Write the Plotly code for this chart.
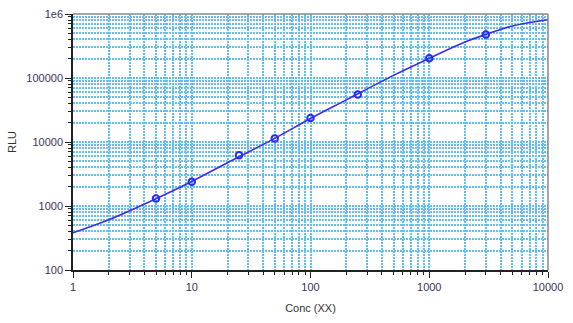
import plotly.graph_objects as go

# Standards measured on the plate
conc = [5, 10, 25, 50, 100, 250, 1000, 3000]
rlu = [1315, 2400, 6200, 11300, 23700, 55400, 204000, 477000]

# Fitted standard curve, sampled across the plotted range
fit_conc = [1, 2, 5, 10, 20, 50, 100, 200, 500, 1000, 2000, 3000, 5000, 10000]
fit_rlu = [382, 610, 1300, 2420, 4750, 11400, 23300, 45500, 110000, 203000,
           365000, 480000, 650000, 815000]

x_major = [1, 10, 100, 1000, 10000]
x_labels = ["1", "10", "100", "1000", "10000"]
y_major = [100, 1000, 10000, 100000, 1000000]
y_labels = ["100", "1000", "10000", "100000", "1e6"]


def minor_vals(lo_exp, hi_exp):
    return [m * 10 ** e for e in range(lo_exp, hi_exp) for m in range(2, 10)]


grid_color = "#62bff0"
grid_dash = "2px,1px"
label_color = "#3a3358"
font_family = "Liberation Sans, Arial"

fig = go.Figure()
fig.add_trace(go.Scatter(
    x=fit_conc, y=fit_rlu, mode="lines", line_shape="spline",
    line=dict(color="#3b2ee6", width=1.6), hoverinfo="skip", showlegend=False,
))
fig.add_trace(go.Scatter(
    x=conc, y=rlu, mode="markers",
    marker=dict(symbol="circle-open", size=6.5, color="#2a2af0", line=dict(width=2)),
    showlegend=False,
))

axis_common = dict(
    type="log", showline=True, linecolor="#222222", linewidth=1.5,
    ticks="outside", ticklen=6, tickcolor="#222222", tickwidth=1,
    showgrid=True, gridcolor=grid_color, gridwidth=1.5, griddash=grid_dash,
    tickfont=dict(family=font_family, size=11, color=label_color),
    zeroline=False, tickmode="array",
)

minor_common = dict(
    tickmode="array", ticks="outside", ticklen=3, tickcolor="#222222",
    showgrid=True, gridcolor=grid_color, gridwidth=1.5, griddash=grid_dash,
)

fig.update_xaxes(
    **axis_common, range=[0, 4], tickvals=x_major, ticktext=x_labels,
    title=dict(text="Conc (XX)", font=dict(family=font_family, size=11, color="#333333"), standoff=12),
    minor=dict(tickvals=minor_vals(0, 4), **minor_common),
)
fig.update_yaxes(
    **axis_common, range=[2, 6], tickvals=y_major, ticktext=y_labels,
    title=dict(text="RLU", font=dict(family=font_family, size=11, color="#333333"), standoff=7),
    minor=dict(tickvals=minor_vals(2, 6), **minor_common),
)

# Light frame on the top and right edges of the plot area
fig.add_shape(type="line", xref="paper", yref="paper", x0=0, x1=1, y0=1, y1=1,
              line=dict(color="#888888", width=1.5))
fig.add_shape(type="line", xref="paper", yref="paper", x0=1, x1=1, y0=0, y1=1,
              line=dict(color="#888888", width=1.5))

fig.update_layout(
    width=573, height=323,
    margin=dict(l=73, r=25, t=8, b=53),
    paper_bgcolor="white", plot_bgcolor="white",
)

fig.write_html("out.html")
